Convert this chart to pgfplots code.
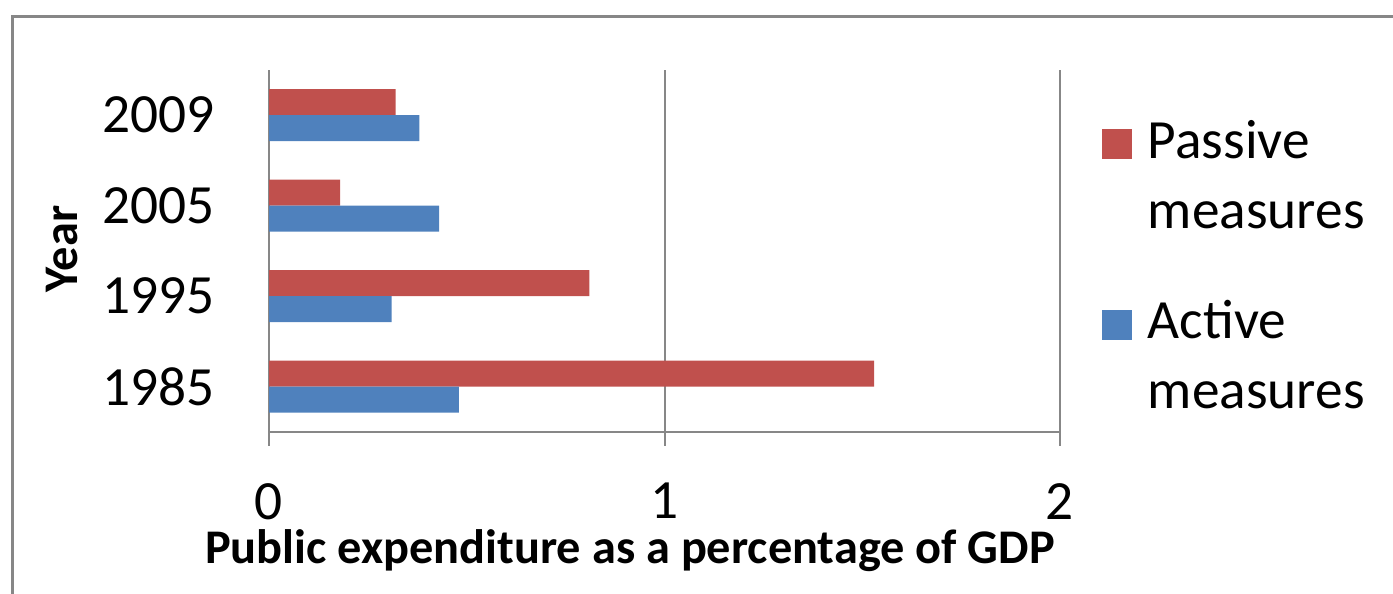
\documentclass[border=0pt]{standalone}
\usepackage{pgfplots}
\pgfplotsset{compat=1.18}
\usepackage{fontspec}
\setmainfont{Carlito}
\definecolor{passive}{HTML}{C0504D}
\definecolor{active}{HTML}{4F81BD}
\definecolor{gridgray}{HTML}{878787}
\begin{document}
\begin{tikzpicture}
\path[use as bounding box] (0,0) rectangle (417.9pt,178.2pt);
\draw[color=gridgray, line width=0.9pt] (3.75pt,-1pt) -- (3.75pt,173.25pt) -- (419pt,173.25pt);
\begin{axis}[
  at={(80.7pt,48.6pt)}, anchor=south west,
  scale only axis, width=237.3pt, height=108.6pt,
  xbar, bar width=7.8pt,
  xmin=0, xmax=2, ymin=-0.5, ymax=3.5,
  xtick={0,1,2}, ytick={0,1,2,3}, yticklabels={1985,1995,2005,2009},
  axis x line*=bottom, axis y line*=left,
  axis line style={-, draw=gridgray, line width=0.6pt},
  xmajorgrids, grid style={draw=gridgray, line width=0.6pt},
  x tick style={draw=gridgray, line width=0.6pt}, major tick length=4.2pt, tick align=outside,
  y tick style={draw=none},
  /pgf/number format/assume math mode=true,
  ticklabel style={font=\fontsize{16.6}{19}\selectfont},
  xticklabel style={yshift=-7.6pt},
  yticklabel style={xshift=-8.5pt},
  xlabel={Public expenditure as a percentage of GDP},
  ylabel={Year},
  every axis x label/.style={at={(axis description cs:0.4564,-0.3646)}, anchor=base, font=\bfseries\fontsize{14.5}{17}\selectfont},
  every axis y label/.style={at={(axis description cs:-0.2617,0.5055)}, anchor=center, rotate=90, font=\bfseries\fontsize{14.5}{17}\selectfont},
  legend style={at={(1.053,0.892)}, anchor=north west, draw=none, inner sep=0pt, outer sep=0pt, row sep=38pt, column sep=4.8pt, nodes={inner sep=0pt, anchor=base west}, font=\fontsize{16.6}{21}\selectfont},
  legend cell align=left,
  legend image code/.code={\fill[#1] (0pt,-0.3pt) rectangle (9pt,8.7pt);},
]
\addplot[fill=passive, draw=none, bar shift=3.9pt] coordinates {(1.53,0) (0.81,1) (0.18,2) (0.32,3)};
\addlegendentry{\begin{tabular}[t]{@{}l@{}}Passive\\measures\end{tabular}}
\addplot[fill=active, draw=none, bar shift=-3.9pt] coordinates {(0.48,0) (0.31,1) (0.43,2) (0.38,3)};
\addlegendentry{\begin{tabular}[t]{@{}l@{}}Active\\measures\end{tabular}}
\end{axis}
\end{tikzpicture}
\end{document}
